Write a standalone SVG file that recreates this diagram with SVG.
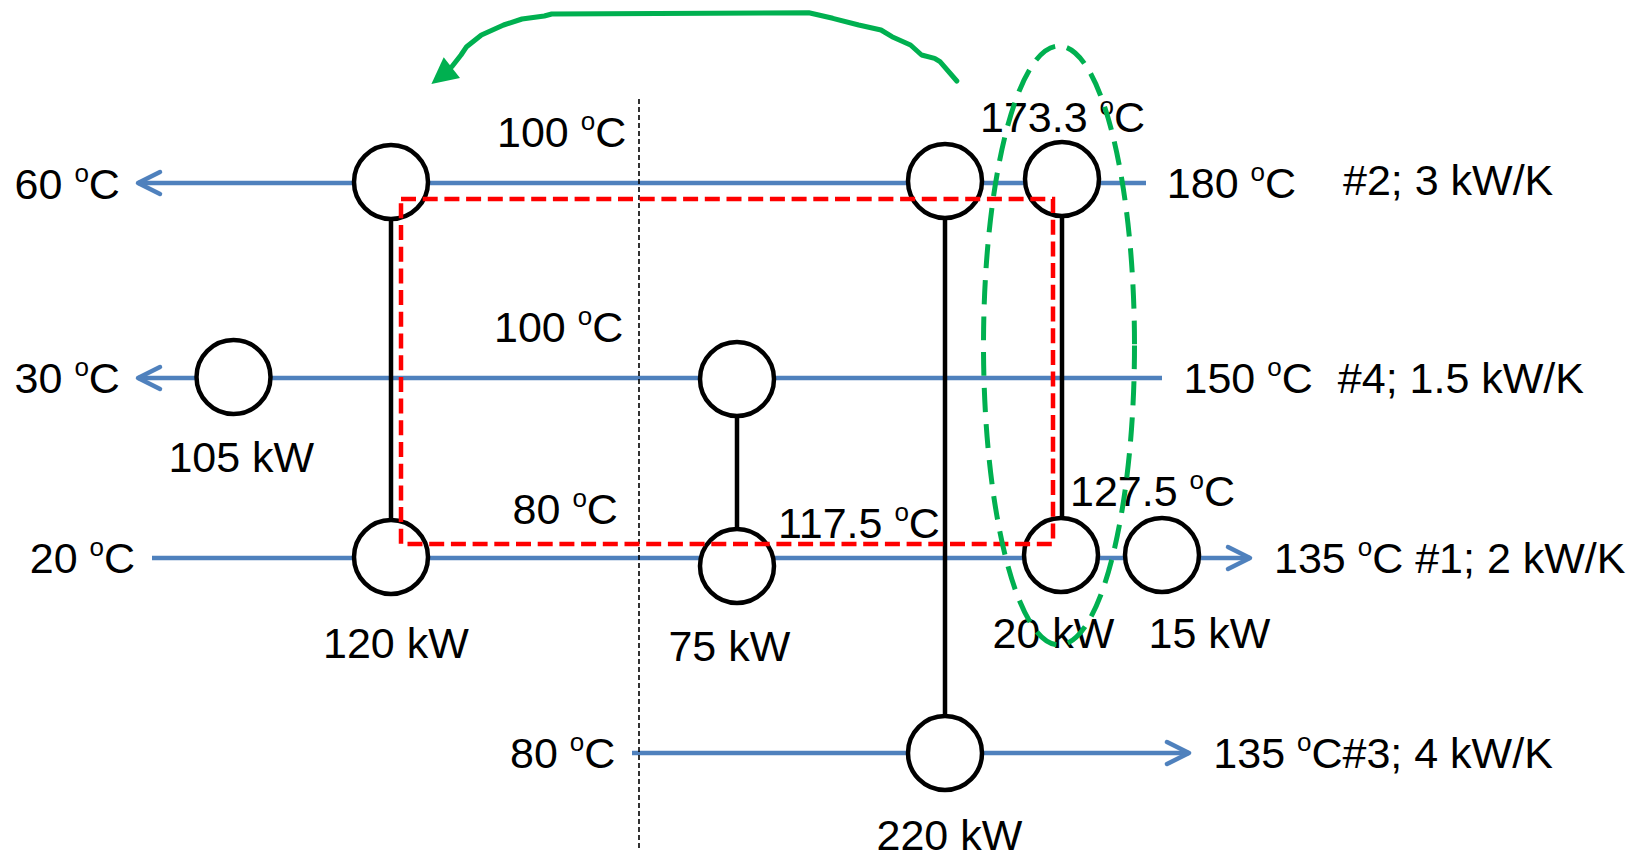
<svg xmlns="http://www.w3.org/2000/svg" width="1646" height="860" viewBox="0 0 1646 860">
<defs>
<style>
.stream{stroke:#4F81BD;stroke-width:4.5;fill:none}
.link{stroke:#000;stroke-width:4.5;fill:none}
.hx{fill:#fff;stroke:#000;stroke-width:4.5}
.lbl{font-family:"Liberation Sans",Arial,sans-serif;font-size:43px;fill:#000}
.sup{font-size:26px}
.divider{stroke:#000;stroke-width:1.6;stroke-dasharray:5 3;fill:none}
.pinch{stroke:#FF0000;stroke-width:4.5;stroke-dasharray:15 6.7;fill:none}
.loop{stroke:#00B050;stroke-width:5;stroke-dasharray:24 12;fill:none}
.shift{stroke:#00B050;stroke-width:5;fill:none;stroke-linejoin:round;stroke-linecap:round}
</style>
<marker id="open" viewBox="-26 -15 30 30" refX="0" refY="0" markerWidth="30" markerHeight="30" markerUnits="userSpaceOnUse" orient="auto">
<polyline points="-22,-11 0,0 -22,11" fill="none" stroke="#4F81BD" stroke-width="4.5" stroke-linecap="round" stroke-linejoin="round"/>
</marker>
</defs>
<rect width="1646" height="860" fill="#fff"/>

<g id="connectors">
<line class="stream" x1="1146" y1="183" x2="138" y2="183" marker-end="url(#open)"/>
<line class="stream" x1="1162" y1="378" x2="138" y2="378" marker-end="url(#open)"/>
<line class="stream" x1="152" y1="558" x2="1250" y2="558" marker-end="url(#open)"/>
<line class="stream" x1="632" y1="753" x2="1189" y2="753" marker-end="url(#open)"/>
<line class="divider" x1="639" y1="99" x2="639" y2="848"/>
<line class="link" x1="391" y1="182" x2="391" y2="557"/>
<line class="link" x1="737" y1="379" x2="737" y2="566"/>
<line class="link" x1="945" y1="181" x2="945" y2="753"/>
<line class="link" x1="1062" y1="179" x2="1062" y2="555"/>
</g>

<g id="hx1"><circle class="hx" cx="391" cy="182" r="37"/></g>
<g id="hx2"><circle class="hx" cx="945" cy="181" r="37"/></g>
<g id="hx3"><circle class="hx" cx="1062" cy="179" r="37"/></g>
<g id="hx4"><circle class="hx" cx="233.5" cy="377" r="37"/></g>
<g id="hx5"><circle class="hx" cx="737" cy="379" r="37"/></g>
<g id="hx6"><circle class="hx" cx="391" cy="557" r="37"/></g>
<g id="hx7"><circle class="hx" cx="737" cy="566" r="37"/></g>
<g id="hx8"><circle class="hx" cx="1061" cy="555" r="37"/></g>
<g id="hx9"><circle class="hx" cx="1162" cy="555" r="37"/></g>
<g id="hx10"><circle class="hx" cx="945" cy="753" r="37"/></g>

<g id="labels">
<text class="lbl" x="14.6" y="199">60 <tspan class="sup" dy="-17">o</tspan><tspan dy="17">C</tspan></text>
<text class="lbl" x="14.6" y="393">30 <tspan class="sup" dy="-17">o</tspan><tspan dy="17">C</tspan></text>
<text class="lbl" x="29.8" y="573">20 <tspan class="sup" dy="-17">o</tspan><tspan dy="17">C</tspan></text>
<text class="lbl" x="497" y="146.7">100 <tspan class="sup" dy="-17">o</tspan><tspan dy="17">C</tspan></text>
<text class="lbl" x="494" y="342">100 <tspan class="sup" dy="-17">o</tspan><tspan dy="17">C</tspan></text>
<text class="lbl" x="512.6" y="524.3">80 <tspan class="sup" dy="-17">o</tspan><tspan dy="17">C</tspan></text>
<text class="lbl" x="510" y="768.3">80 <tspan class="sup" dy="-17">o</tspan><tspan dy="17">C</tspan></text>
<text class="lbl" x="168.4" y="471.7">105 kW</text>
<text class="lbl" x="323" y="658.3">120 kW</text>
<text class="lbl" x="668.4" y="660.7">75 kW</text>
<text class="lbl" x="778" y="537.5">117.5 <tspan class="sup" dy="-17">o</tspan><tspan dy="17">C</tspan></text>
<text class="lbl" x="980" y="131.7">173.3 <tspan class="sup" dy="-17">o</tspan><tspan dy="17">C</tspan></text>
<text class="lbl" x="1166.8" y="198.3">180 <tspan class="sup" dy="-17">o</tspan><tspan dy="17">C</tspan></text>
<text class="lbl" x="1343" y="195">#2; 3 kW/K</text>
<text class="lbl" x="1183.5" y="393.3">150 <tspan class="sup" dy="-17">o</tspan><tspan dy="17">C</tspan></text>
<text class="lbl" x="1337.8" y="393.3">#4; 1.5 kW/K</text>
<text class="lbl" x="1070" y="506">127.5 <tspan class="sup" dy="-17">o</tspan><tspan dy="17">C</tspan></text>
<text class="lbl" x="1274" y="573.3">135 <tspan class="sup" dy="-17">o</tspan><tspan dy="17">C #1; 2 kW/K</tspan></text>
<text class="lbl" x="992.6" y="648.3">20 kW</text>
<text class="lbl" x="1148.5" y="648.3">15 kW</text>
<text class="lbl" x="1213.3" y="767.7">135 <tspan class="sup" dy="-17">o</tspan><tspan dy="17">C#3; 4 kW/K</tspan></text>
<text class="lbl" x="876.5" y="850">220 kW</text>
</g>

<g id="pinch-region">
<rect class="pinch" x="401" y="199" width="652" height="345"/>
</g>
<g id="loop">
<ellipse class="loop" cx="1059" cy="345.5" rx="75.5" ry="299.5"/>
</g>
<g id="shift-arrow">
<path class="shift" d="M956.8 81 L940 61.7 L934.6 58.3 L921.6 55 L910.5 45 L892 36.7 L881 30 L858.7 25 L832.8 18.3 L808.8 12.7 L551.7 14 L544.3 16 L522 19 L503.6 25 L481.4 35 L466.6 46.7 L461 55 L451.8 66.7"/>
<polygon points="431.4,84 443.7,57.3 460,78" fill="#00B050"/>
</g>
</svg>
